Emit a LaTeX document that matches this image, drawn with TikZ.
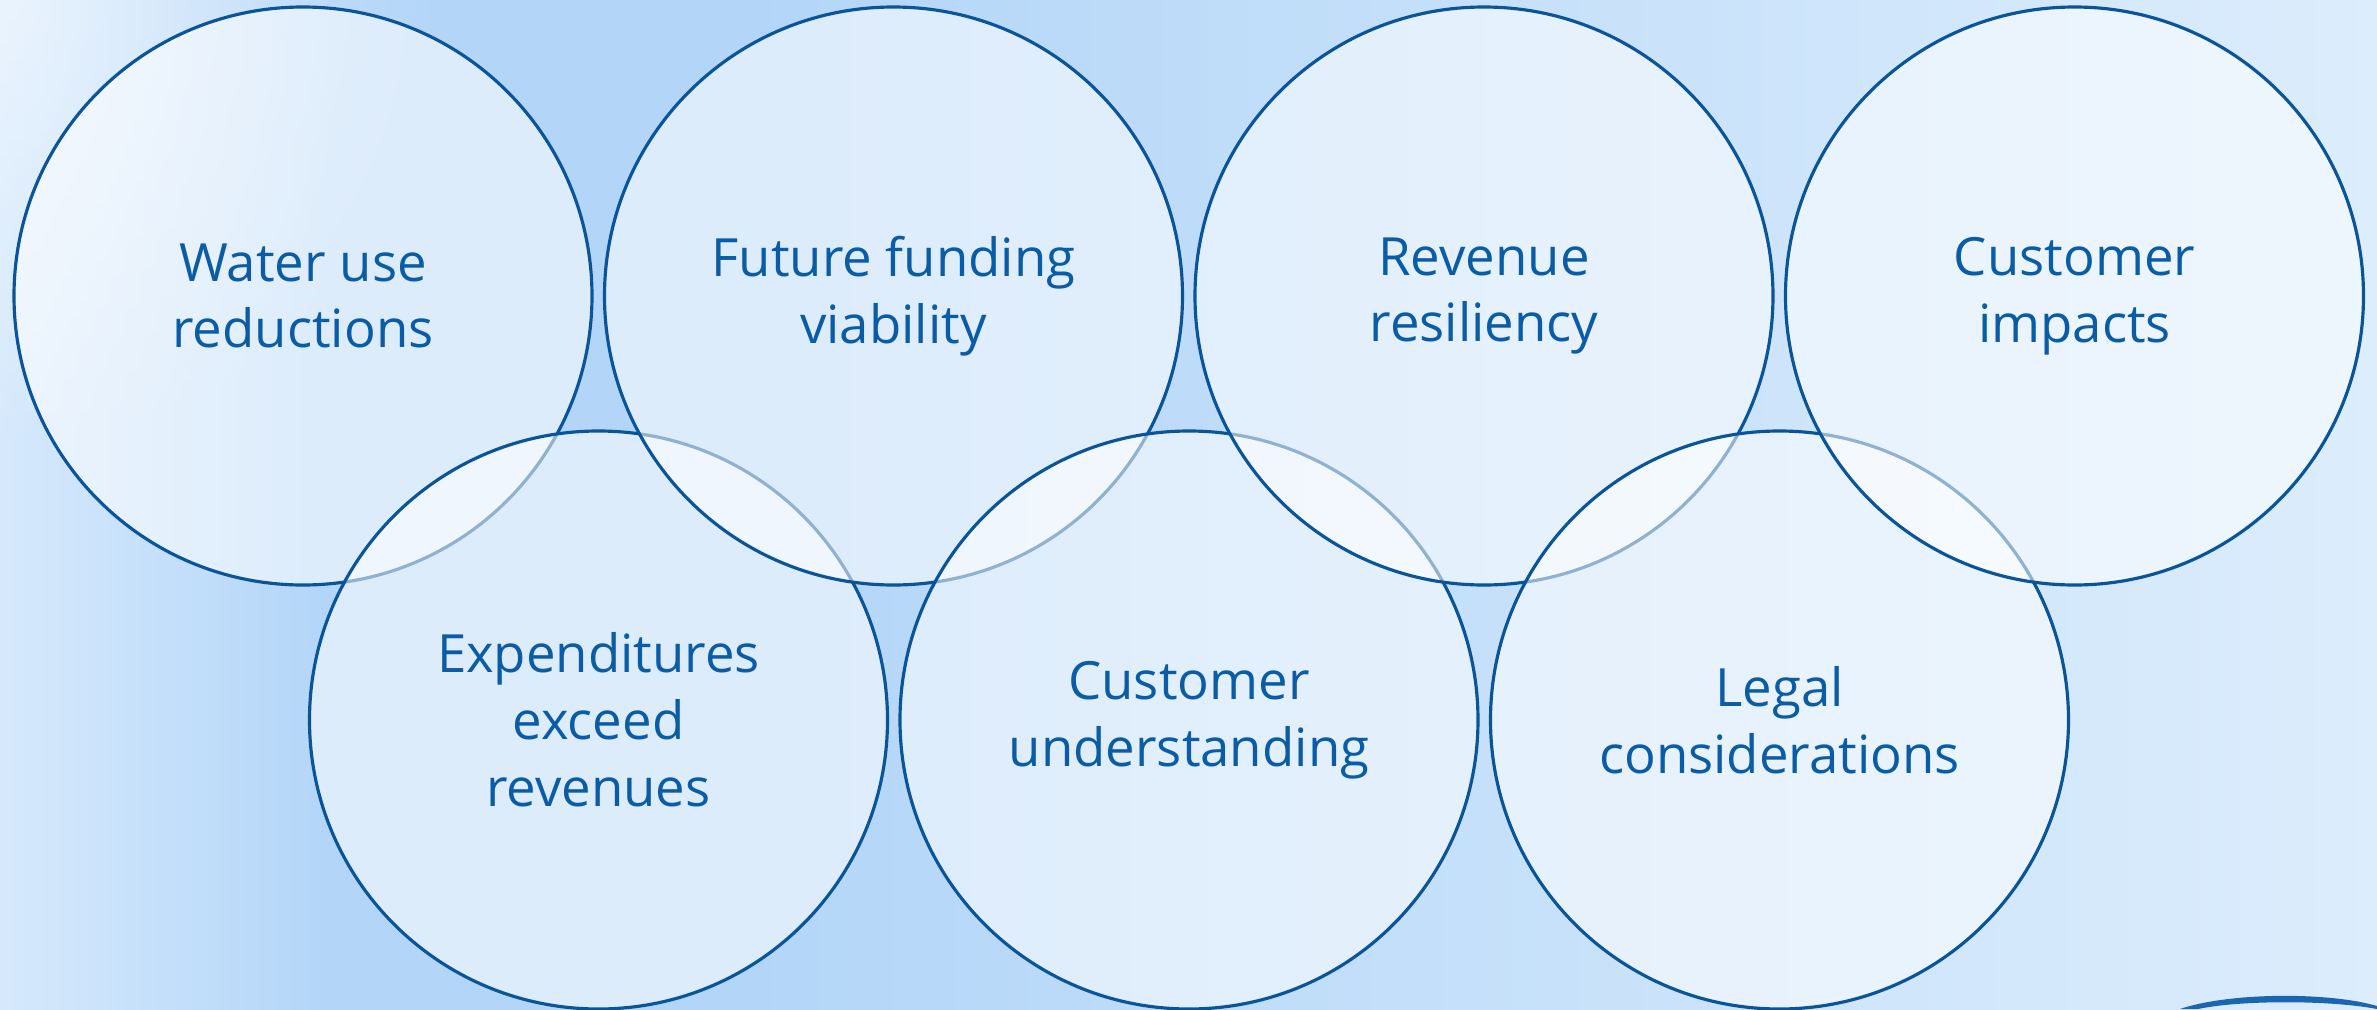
\documentclass[tikz,border=0pt]{standalone}
\usepackage{fontspec}
\setmainfont{Open Sans}
\usetikzlibrary{fadings}

\definecolor{ringblue}{HTML}{0A5499}
\definecolor{textblue}{HTML}{0B5CA6}
\definecolor{logoblue}{HTML}{1A66B0}
\definecolor{bgleft}{HTML}{D6E9FC}
\definecolor{bgdeep}{HTML}{B2D5F8}
\definecolor{bgright}{HTML}{DCEDFC}

\pgfdeclarehorizontalshading{bgshade}{100bp}{color(0bp)=(bgleft); color(25bp)=(bgleft); color(32bp)=(bgdeep); color(40bp)=(bgdeep); color(75bp)=(bgright); color(100bp)=(bgright)}
\tikzfading[name=cornerglow, inner color=transparent!0, outer color=transparent!100]

\begin{document}
\begin{tikzpicture}[
    bubble/.style={draw=ringblue, line width=0.9pt, circle, minimum size=5.78cm, inner sep=0pt,
        fill=white, fill opacity=0.55, text opacity=1, text=textblue, align=center,
        font=\fontsize{15}{19}\selectfont}
  ]
            \useasboundingbox (0,0) rectangle (23.77,10.09);
            \fill[shading=bgshade] (0,0) rectangle (23.77,10.09);
            \fill[white, opacity=0.5, path fading=cornerglow] (0,10.09) circle (4.5);

            \node[bubble] (water) at (3.03,7.13) {Water use\\reductions};
            \node[bubble] (spend) at (5.985,2.89) {Expenditures\\exceed\\revenues};
            \node[bubble] (funding) at (8.935,7.13) {Future funding\\viability};
            \node[bubble] (understand) at (11.89,2.89) {Customer\\understanding};
            \node[bubble] (resilience) at (14.84,7.13) {Revenue\\resiliency};
            \node[bubble] (legal) at (17.795,2.89) {Legal\\considerations};
            \node[bubble] (impacts) at (20.745,7.13) {Customer\\impacts};

            % logo edge in the corner
            \fill[logoblue] (21.80,0) .. controls (22.30,0.17) and (23.30,0.17) .. (23.77,0.03)
                -- (23.77,0) .. controls (23.30,0.09) and (22.40,0.09) .. (21.98,0) -- cycle;
        \end{tikzpicture}
\end{document}
